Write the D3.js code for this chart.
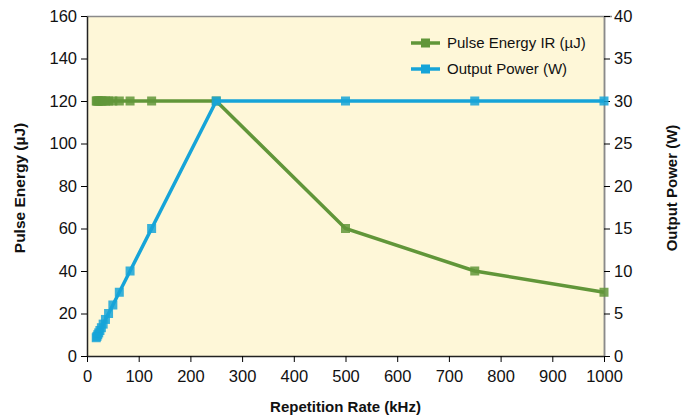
<!DOCTYPE html>
<html>
<head>
<meta charset="utf-8">
<script src="https://cdn.jsdelivr.net/npm/d3@7"></script>
<style>
  body { margin: 0; background: #fff; }
  text { font-family: "Liberation Sans", Arial, sans-serif; fill: #111; }
</style>
</head>
<body>
<div id="chart"></div>
<script>
// repetition rate (kHz)
var rateKHz = [17.9, 19.2, 20.8, 22.7, 25, 27.8, 31.25, 35.7, 41.7, 50, 62.5, 83.3, 125, 250, 500, 750, 1000];
// pulse energy IR (uJ)
var pulseEnergy = [120, 120, 120, 120, 120, 120, 120, 120, 120, 120, 120, 120, 120, 120, 60, 40, 30];
// output power (W)
var outputPower = [2.15, 2.3, 2.5, 2.72, 3, 3.33, 3.75, 4.3, 5, 6, 7.5, 10, 15, 30, 30, 30, 30];

var xTicks = [0, 100, 200, 300, 400, 500, 600, 700, 800, 900, 1000];
var yLeftTicks = [0, 20, 40, 60, 80, 100, 120, 140, 160];
var yRightTicks = [0, 5, 10, 15, 20, 25, 30, 35, 40];

var width = 681, height = 419;
var margin = {top: 16, right: 77, bottom: 63, left: 87};
var plotW = width - margin.left - margin.right,
    plotH = height - margin.top - margin.bottom;

var green = "#619639", blue = "#16A4D8";

var svg = d3.select("#chart").append("svg")
    .attr("width", width)
    .attr("height", height);

var g = svg.append("g")
    .attr("transform", "translate(" + margin.left + "," + margin.top + ")");

var x = d3.scaleLinear().domain([0, 1000]).range([0, plotW]);
var yL = d3.scaleLinear().domain([0, 160]).range([plotH, 0]);
var yR = d3.scaleLinear().domain([0, 40]).range([plotH, 0]);

// plot background
g.append("rect")
    .attr("width", plotW)
    .attr("height", plotH)
    .attr("fill", "#FEF7D8");

// top + right border
g.append("path")
    .attr("d", "M0,0.5H" + (plotW + 8) + "M" + (plotW + 0.5) + ",0V" + plotH)
    .attr("stroke", "#8a8a8a")
    .attr("stroke-width", 1.5)
    .attr("fill", "none");

// axes
var xAxis = g.append("g")
    .attr("transform", "translate(0," + plotH + ")")
    .call(d3.axisBottom(x).tickValues(xTicks).tickFormat(d3.format("d")).tickSize(6).tickSizeOuter(0));
xAxis.selectAll("text").attr("dy", "1.0em");

var leftAxis = g.append("g")
    .call(d3.axisLeft(yL).tickValues(yLeftTicks).tickSize(6).tickSizeOuter(0));

var rightAxis = g.append("g")
    .attr("transform", "translate(" + plotW + ",0)")
    .call(d3.axisRight(yR).tickValues(yRightTicks).tickSize(6).tickSizeOuter(0));
rightAxis.select(".domain").attr("stroke", "#8a8a8a");

g.selectAll(".tick text").style("font-size", "16.5px").style("fill", "#111");
leftAxis.selectAll(".tick text").attr("x", -10);
rightAxis.selectAll(".tick text").attr("x", 10);
g.selectAll(".domain").attr("stroke-width", 1.5);
xAxis.select(".domain").attr("stroke", "#222");
leftAxis.select(".domain").attr("stroke", "#222");

// axis titles
svg.append("text")
    .attr("x", margin.left + plotW / 2)
    .attr("y", 412)
    .attr("text-anchor", "middle")
    .style("font-size", "15px")
    .style("font-weight", "bold")
    .text("Repetition Rate (kHz)");

svg.append("text")
    .attr("transform", "translate(25," + (margin.top + plotH / 2 + 2) + ") rotate(-90)")
    .attr("text-anchor", "middle")
    .style("font-size", "15.5px")
    .style("font-weight", "bold")
    .text("Pulse Energy (\u00b5J)");

svg.append("text")
    .attr("transform", "translate(677," + (margin.top + plotH / 2 + 2) + ") rotate(-90)")
    .attr("text-anchor", "middle")
    .style("font-size", "15px")
    .style("font-weight", "bold")
    .text("Output Power (W)");

// series
var energyPts = rateKHz.map(function(r, i) { return [x(r), yL(pulseEnergy[i])]; });
var powerPts = rateKHz.map(function(r, i) { return [x(r), yR(outputPower[i])]; });

var line = d3.line();
var ms = 9;

function drawSeries(pts, color) {
  g.append("path")
      .attr("d", line(pts))
      .attr("fill", "none")
      .attr("stroke", color)
      .attr("stroke-width", 3.5);
  g.selectAll(null)
      .data(pts)
      .enter().append("rect")
      .attr("x", function(d) { return d[0] - ms / 2; })
      .attr("y", function(d) { return d[1] - ms / 2; })
      .attr("width", ms)
      .attr("height", ms)
      .attr("fill", color)
      .attr("fill-opacity", 0.85);
}
drawSeries(energyPts, green);
drawSeries(powerPts, blue);

// legend
var legendItems = [
  {label: "Pulse Energy IR (\u00b5J)", color: green},
  {label: "Output Power (W)", color: blue}
];
var legend = svg.selectAll(".legend")
    .data(legendItems)
    .enter().append("g")
    .attr("transform", function(d, i) { return "translate(411," + (43 + i * 26) + ")"; });
legend.append("line")
    .attr("x1", 0).attr("x2", 29)
    .attr("stroke", function(d) { return d.color; })
    .attr("stroke-width", 3.5);
legend.append("rect")
    .attr("x", 14.5 - ms / 2).attr("y", -ms / 2)
    .attr("width", ms).attr("height", ms)
    .attr("fill", function(d) { return d.color; });
legend.append("text")
    .attr("x", 36)
    .attr("dy", "0.35em")
    .style("font-size", "15px")
    .text(function(d) { return d.label; });
</script>
</body>
</html>
